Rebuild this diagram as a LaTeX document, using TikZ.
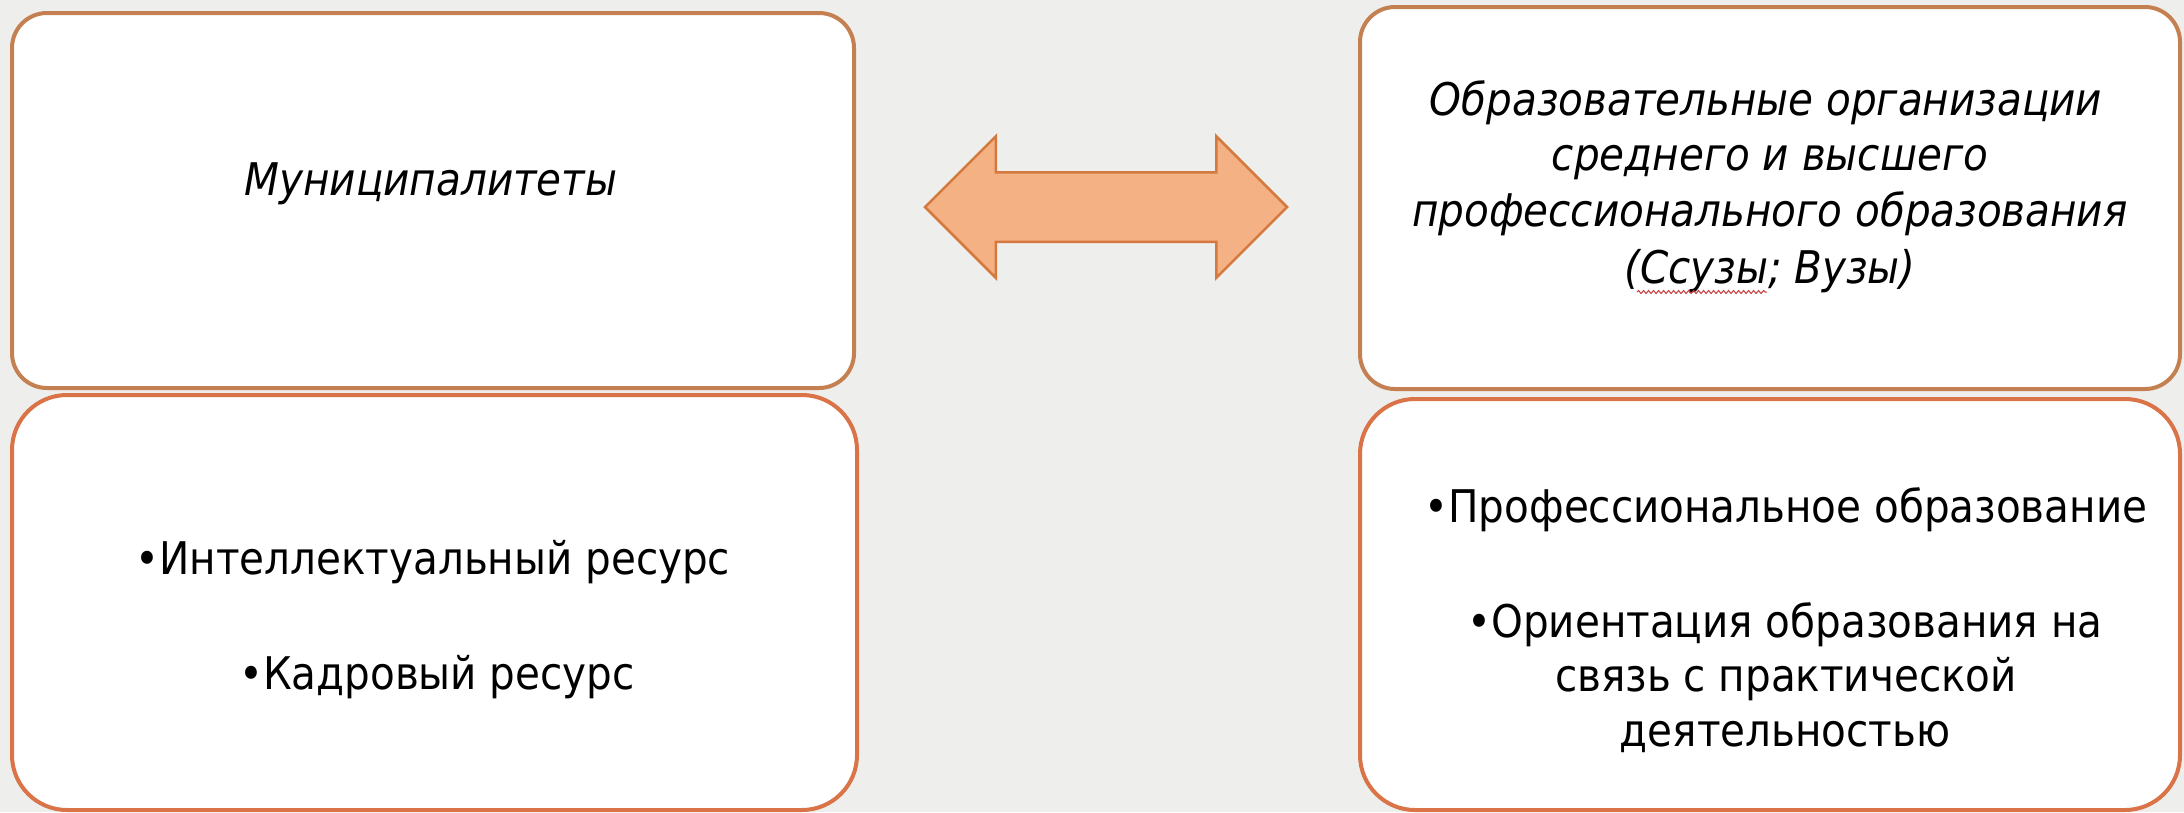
\documentclass[tikz,border=0pt]{standalone}
\usepackage{fontspec}
\setmainfont{DejaVuSansCondensed.ttf}[ItalicFont=DejaVuSansCondensed-Oblique.ttf,BoldFont=DejaVuSansCondensed-Bold.ttf]
\usetikzlibrary{shapes.arrows,decorations.pathmorphing}
\definecolor{bgcol}{RGB}{238,238,237}
\definecolor{topline}{RGB}{196,128,80}
\definecolor{botline}{RGB}{218,116,72}
\definecolor{arrfill}{RGB}{244,177,131}
\definecolor{arrline}{RGB}{212,122,62}
\definecolor{spellred}{RGB}{200,60,60}
\begin{document}
\begin{tikzpicture}[x=1pt,y=-1pt,
  topbox/.style={draw=topline,line width=4pt,fill=white,rounded corners=35pt,
    rectangle,inner sep=0pt,anchor=north west},
  botbox/.style={draw=botline,line width=4pt,fill=white,rounded corners=55pt,
    rectangle,inner sep=0pt,anchor=north west},
  txt/.style={anchor=base,inner sep=0pt,font=\fontsize{45}{54}\selectfont,text=black},
  itxt/.style={txt,font=\fontsize{45}{54}\selectfont\itshape},
  dbl/.style={double arrow,draw=arrline,fill=arrfill,line width=2.5pt,
    double arrow head extend=36pt,double arrow tip angle=90,
    inner xsep=0pt,inner ysep=33.5pt,minimum height=362pt,minimum width=1pt}
]
\useasboundingbox (0,0) rectangle (2184,812);
\fill[bgcol] (0,0) rectangle (2184,812);

% boxes
\node[topbox,minimum width=842pt,minimum height=375pt] (mun) at (10,11) {};
\node[botbox,minimum width=845pt,minimum height=415pt] (res) at (10,393) {};
\node[topbox,minimum width=820pt,minimum height=382pt] (edu) at (1358,5) {};
\node[botbox,minimum width=820pt,minimum height=411pt] (prof) at (1358,397) {};

% double arrow
\node[dbl] (arr) at (1106,207) {};

% texts
\node[itxt] (munT) at (431,195) {Муниципалитеты};

\node[itxt] (eduA) at (1766,115) {Образовательные организации};
\node[itxt] (eduB) at (1770,170) {среднего и высшего};
\node[itxt] (eduC) at (1770,226) {профессионального образования};
\node[itxt] (eduD) at (1770,283) {(Ссузы; Вузы)};
\coordinate (spA) at (1637,292);
\coordinate (spB) at (1767,292);
\draw[spellred,line width=1pt,decorate,decoration={snake,segment length=5pt,amplitude=1.5pt}] (spA) -- (spB);

\node[txt] (resA) at (433,574) {•Интеллектуальный ресурс};
\node[txt] (resB) at (437,689) {•Кадровый ресурс};

\node[txt] (profA) at (1786,522) {•Профессиональное образование};
\node[txt] (profB) at (1785,637) {•Ориентация образования на};
\node[txt] (profC) at (1786,691) {связь с практической};
\node[txt] (profD) at (1785,746) {деятельностью};
\end{tikzpicture}
\end{document}
